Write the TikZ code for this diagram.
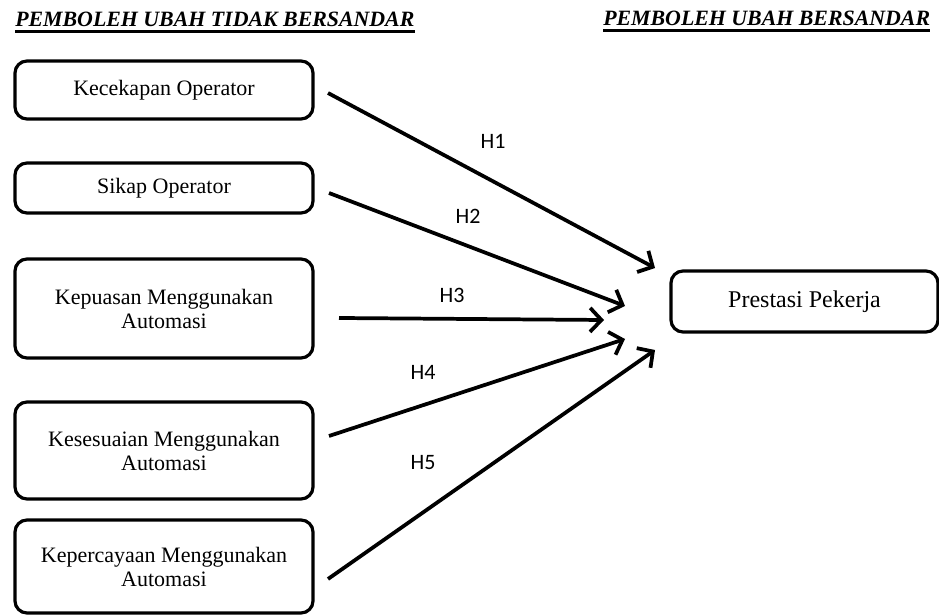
\documentclass[tikz,border=0pt]{standalone}
\usepackage{fontspec}
\setmainfont{Liberation Serif}
\newfontfamily\calfont{Carlito}
\usetikzlibrary{arrows.meta}

\begin{document}
\begin{tikzpicture}[x=0.75pt,y=0.75pt,yscale=-1,xscale=1,
  varbox/.style={draw,line width=2.4pt,rounded corners=9pt,align=center,minimum width=223.5pt,inner sep=0pt,font=\fontsize{16.5}{18}\selectfont},
  hyparrow/.style={line width=2.8pt,-{Straight Barb[length=8.5pt,width=18pt]}},
  hlabel/.style={inner sep=0.75pt,font=\calfont\fontsize{16.5}{18}\selectfont},
  header/.style={anchor=base west,inner sep=0pt,font=\fontsize{16.4}{18}\selectfont\bfseries\itshape}]
\useasboundingbox (0,0) rectangle (939,616);

% Headers
\node[header] (hbebas) at (15,27) {PEMBOLEH UBAH TIDAK BERSANDAR};
\node[header] (hsandar) at (603,26) {PEMBOLEH UBAH BERSANDAR};
\draw[line width=2pt] ([yshift=3.5pt]hbebas.base west) -- ([yshift=3.5pt]hbebas.base east);
\draw[line width=2pt] ([yshift=3.5pt]hsandar.base west) -- ([yshift=3.5pt]hsandar.base east);

% Independent variables
\node[varbox,minimum height=43.5pt] (cekap) at (164,90) {Kecekapan Operator};
\node[varbox,minimum height=37.5pt] (sikap) at (164,188) {Sikap Operator};
\node[varbox,minimum height=74.25pt] (puas) at (164,308.5) {Kepuasan Menggunakan\\Automasi};
\node[varbox,minimum height=72.75pt] (sesuai) at (164,450.5) {Kesesuaian Menggunakan\\Automasi};
\node[varbox,minimum height=69.75pt] (percaya) at (164,566.5) {Kepercayaan Menggunakan\\Automasi};

% Dependent variable
\node[varbox,minimum width=200.25pt,minimum height=45.75pt,font=\fontsize{18}{20}\selectfont] (prestasi) at (804.5,301.5) {Prestasi Pekerja};

% Arrow ends
\coordinate (s1) at (328,93);   \coordinate (e1) at (655,268);
\coordinate (s2) at (329,193);  \coordinate (e2) at (625,306);
\coordinate (s3) at (339,318);  \coordinate (e3) at (604,320);
\coordinate (s4) at (329,436);  \coordinate (e4) at (625,339);
\coordinate (s5) at (328,579);  \coordinate (e5) at (655,350);

\draw[hyparrow] (s1) -- (e1);
\draw[hyparrow] (s2) -- (e2);
\draw[hyparrow] (s3) -- (e3);
\draw[hyparrow] (s4) -- (e4);
\draw[hyparrow] (s5) -- (e5);

% Text Node
\node[hlabel] (h1) at (493,141) {H1};
\node[hlabel] (h2) at (468,216) {H2};
\node[hlabel] (h3) at (452,295) {H3};
\node[hlabel] (h4) at (423,372) {H4};
\node[hlabel] (h5) at (423,463) {H5};

\end{tikzpicture}
\end{document}
